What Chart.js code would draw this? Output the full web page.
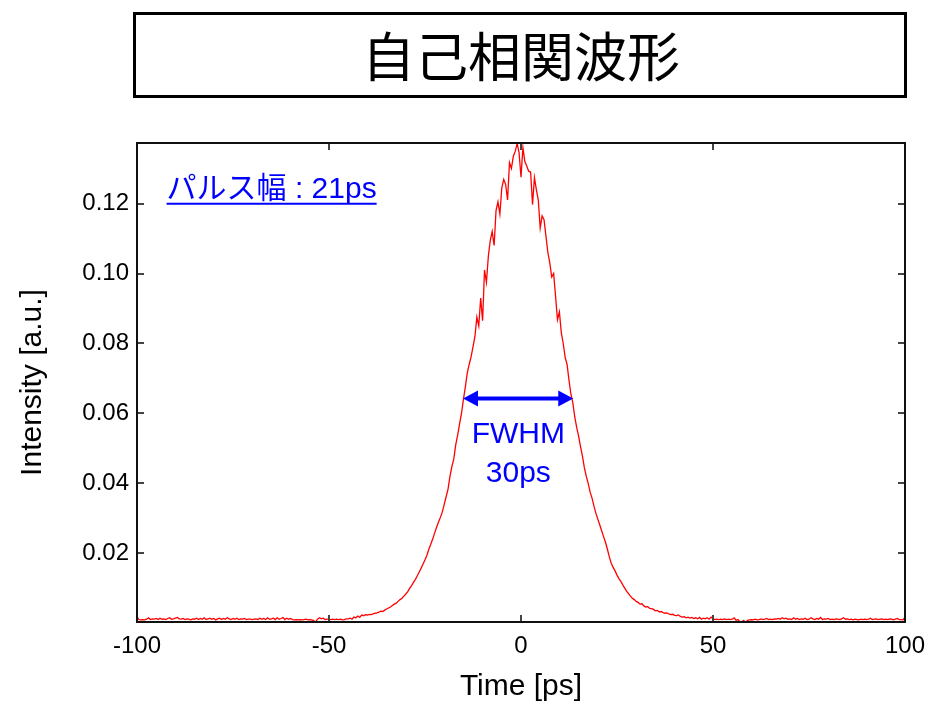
<!DOCTYPE html>
<html><head><meta charset="utf-8">
<script src="https://cdn.jsdelivr.net/npm/chart.js@4.4.0/dist/chart.umd.min.js"></script>
<style>html,body{margin:0;padding:0;background:#fff;}#wrap{width:943px;height:705px;}</style>
</head><body><div id="wrap"><canvas id="c" width="943" height="705"></canvas></div>
<script>
// ---- data ----
const timeStart = -100;   // ps, first sample
const timeStep = 0.5;     // ps, sampling interval
const intensity = [
0.0019,0.0011,0.0010,0.0011,0.0010,0.0012,0.0016,0.0011,0.0013,0.0012,
0.0014,0.0011,0.0015,0.0012,0.0013,0.0011,0.0014,0.0016,0.0012,0.0013,
0.0015,0.0017,0.0013,0.0012,0.0014,0.0011,0.0013,0.0012,0.0010,0.0013,
0.0012,0.0015,0.0011,0.0014,0.0012,0.0016,0.0011,0.0013,0.0015,0.0012,
0.0014,0.0010,0.0013,0.0015,0.0011,0.0014,0.0012,0.0016,0.0013,0.0011,
0.0014,0.0012,0.0015,0.0011,0.0013,0.0012,0.0014,0.0011,0.0012,0.0012,
0.0011,0.0012,0.0013,0.0011,0.0015,0.0012,0.0014,0.0011,0.0016,0.0012,
0.0013,0.0015,0.0011,0.0016,0.0012,0.0014,0.0017,0.0011,0.0015,0.0012,
0.0014,0.0011,0.0010,0.0011,0.0010,0.0011,0.0010,0.0011,0.0012,0.0010,
0.0011,0.0010,0.0008,0.0004,0.0012,0.0016,0.0013,0.0015,0.0011,0.0012,
0.0012,0.0011,0.0012,0.0011,0.0012,0.0011,0.0012,0.0010,0.0011,0.0013,
0.0013,0.0015,0.0012,0.0018,0.0016,0.0021,0.0017,0.0024,0.0022,0.0025,
0.0024,0.0026,0.0025,0.0027,0.0029,0.0030,0.0032,0.0035,0.0034,0.0038,
0.0041,0.0044,0.0047,0.0051,0.0055,0.0058,0.0063,0.0068,0.0072,0.0078,
0.0084,0.0091,0.0100,0.0108,0.0117,0.0126,0.0136,0.0147,0.0158,0.0170,
0.0182,0.0195,0.0212,0.0226,0.0241,0.0258,0.0274,0.0289,0.0303,0.0318,
0.0340,0.0362,0.0384,0.0420,0.0448,0.0470,0.0510,0.0538,0.0570,0.0600,
0.0640,0.0675,0.0715,0.0740,0.0762,0.0790,0.0820,0.0875,0.0850,0.0930,
0.0865,0.1010,0.0975,0.1050,0.1095,0.1120,0.1080,0.1180,0.1205,0.1170,
0.1245,0.1269,0.1255,0.1210,0.1317,0.1300,0.1335,0.1349,0.1372,0.1345,
0.1275,0.1360,0.1320,0.1307,0.1292,0.1290,0.1197,0.1274,0.1240,0.1210,
0.1130,0.1165,0.1154,0.1106,0.1060,0.1030,0.0990,0.1000,0.0935,0.0868,
0.0890,0.0830,0.0800,0.0760,0.0740,0.0695,0.0655,0.0630,0.0590,0.0560,
0.0535,0.0505,0.0478,0.0445,0.0420,0.0400,0.0375,0.0358,0.0335,0.0315,
0.0298,0.0282,0.0265,0.0248,0.0232,0.0212,0.0190,0.0172,0.0160,0.0150,
0.0138,0.0128,0.0120,0.0110,0.0101,0.0092,0.0085,0.0078,0.0072,0.0068,
0.0063,0.0060,0.0055,0.0056,0.0050,0.0047,0.0048,0.0043,0.0042,0.0040,
0.0036,0.0037,0.0033,0.0034,0.0031,0.0029,0.0030,0.0027,0.0025,0.0026,
0.0023,0.0022,0.0024,0.0020,0.0018,0.0019,0.0016,0.0018,0.0015,0.0017,
0.0014,0.0016,0.0013,0.0017,0.0012,0.0015,0.0013,0.0016,0.0012,0.0018,
0.0014,0.0011,0.0012,0.0011,0.0012,0.0011,0.0013,0.0011,0.0012,0.0011,
0.0012,0.0016,0.0009,0.0011,0.0004,0.0005,0.0008,0.0003,0.0009,0.0010,
0.0011,0.0010,0.0012,0.0010,0.0011,0.0013,0.0011,0.0012,0.0014,0.0011,
0.0012,0.0011,0.0013,0.0012,0.0014,0.0012,0.0016,0.0013,0.0015,0.0012,
0.0013,0.0011,0.0016,0.0012,0.0014,0.0011,0.0013,0.0012,0.0015,0.0011,
0.0012,0.0016,0.0013,0.0011,0.0014,0.0012,0.0017,0.0011,0.0013,0.0012,
0.0014,0.0011,0.0012,0.0011,0.0013,0.0012,0.0011,0.0013,0.0016,0.0012,
0.0013,0.0011,0.0012,0.0010,0.0012,0.0011,0.0010,0.0012,0.0011,0.0012,
0.0011,0.0012,0.0015,0.0011,0.0012,0.0013,0.0011,0.0012,0.0013,0.0011,
0.0012,0.0011,0.0013,0.0012,0.0010,0.0012,0.0014,0.0011,0.0011,0.0010,0.0018
];
const xTickValues = [-100, -50, 0, 50, 100];
const yTickValues = [0.02, 0.04, 0.06, 0.08, 0.10, 0.12];
const xRange = [-100, 100];
const yRange = [0.0004, 0.1373];
const fwhmLeft = -15.1, fwhmRight = 13.6, fwhmLevel = 0.0643;
const fwhmText = ['FWHM', '30ps'];
const fwhmTextPos = [[-0.7, 0.0515], [-0.7, 0.0404]];
const pulseText = 'パルス幅 : 21ps';
const pulseTextPos = [-92.3, 0.1215];
const titleText = '自己相関波形';
const xTitle = 'Time [ps]';
const yTitle = 'Intensity [a.u.]';

const points = intensity.map((v, i) => ({x: timeStart + i * timeStep, y: v}));
const LATIN = '"Liberation Sans", Arial, sans-serif';
const JP = '"Liberation Sans", "Noto Sans CJK JP", sans-serif';

const decor = {
  id: 'decor',
  beforeDraw(chart) {
    const ctx = chart.ctx;
    ctx.save();
    ctx.fillStyle = '#fff';
    ctx.fillRect(0, 0, chart.width, chart.height);
    // title box + title
    ctx.strokeStyle = '#000';
    ctx.lineWidth = 3;
    ctx.strokeRect(134.5, 13.5, 771, 83);
    ctx.fillStyle = '#000';
    ctx.font = '400 53px "Noto Sans CJK JP", sans-serif';
    ctx.textAlign = 'center';
    ctx.textBaseline = 'middle';
    ctx.fillText(titleText, 521, 57);
    ctx.restore();
  },
  afterDatasetsDraw(chart) {
    const ctx = chart.ctx;
    const a = chart.chartArea;
    const xs = chart.scales.x, ys = chart.scales.y;
    ctx.save();
    // inner ticks
    ctx.strokeStyle = '#444';
    ctx.lineWidth = 2;
    const tl = 7;
    xTickValues.forEach(v => {
      const px = Math.round(xs.getPixelForValue(v));
      if (px <= a.left + 1 || px >= a.right - 1) return;
      ctx.beginPath();
      ctx.moveTo(px, a.bottom); ctx.lineTo(px, a.bottom - tl);
      ctx.moveTo(px, a.top); ctx.lineTo(px, a.top + tl);
      ctx.stroke();
    });
    yTickValues.forEach(v => {
      const py = Math.round(ys.getPixelForValue(v));
      ctx.beginPath();
      ctx.moveTo(a.left, py); ctx.lineTo(a.left + tl, py);
      ctx.moveTo(a.right, py); ctx.lineTo(a.right - tl, py);
      ctx.stroke();
    });
    // frame
    ctx.strokeStyle = '#111';
    ctx.lineWidth = 2;
    ctx.strokeRect(a.left, a.top, a.right - a.left, a.bottom - a.top);

    // FWHM arrow
    const x1 = xs.getPixelForValue(fwhmLeft), x2 = xs.getPixelForValue(fwhmRight);
    const yA = ys.getPixelForValue(fwhmLevel);
    const hl = 15, hw = 8;
    ctx.strokeStyle = '#0000ff';
    ctx.fillStyle = '#0000ff';
    ctx.lineWidth = 4;
    ctx.beginPath();
    ctx.moveTo(x1 + hl - 2, yA); ctx.lineTo(x2 - hl + 2, yA);
    ctx.stroke();
    ctx.beginPath();
    ctx.moveTo(x1, yA); ctx.lineTo(x1 + hl, yA - hw); ctx.lineTo(x1 + hl, yA + hw); ctx.closePath();
    ctx.fill();
    ctx.beginPath();
    ctx.moveTo(x2, yA); ctx.lineTo(x2 - hl, yA - hw); ctx.lineTo(x2 - hl, yA + hw); ctx.closePath();
    ctx.fill();

    // FWHM texts
    ctx.font = '30px ' + LATIN;
    ctx.textAlign = 'center';
    ctx.textBaseline = 'alphabetic';
    fwhmText.forEach((t, i) => {
      ctx.fillText(t, xs.getPixelForValue(fwhmTextPos[i][0]), ys.getPixelForValue(fwhmTextPos[i][1]));
    });

    // pulse width annotation (underlined)
    ctx.font = '30px ' + JP;
    ctx.textAlign = 'left';
    const px0 = xs.getPixelForValue(pulseTextPos[0]);
    const py0 = ys.getPixelForValue(pulseTextPos[1]);
    ctx.fillText(pulseText, px0, py0);
    const w = ctx.measureText(pulseText).width;
    ctx.lineWidth = 2;
    ctx.beginPath();
    ctx.moveTo(px0, py0 + 5.5); ctx.lineTo(px0 + w, py0 + 5.5);
    ctx.stroke();
    ctx.restore();
  }
};

new Chart(document.getElementById('c'), {
  type: 'line',
  data: {
    datasets: [{
      data: points,
      borderColor: '#ff0000',
      borderWidth: 1.3,
      pointRadius: 0,
      tension: 0,
      fill: false
    }]
  },
  options: {
    responsive: false,
    animation: false,
    devicePixelRatio: 1,
    layout: {padding: {left: 0, right: 38, top: 143, bottom: 0}},
    plugins: {
      legend: {display: false},
      tooltip: {enabled: false},
      title: {display: false}
    },
    scales: {
      x: {
        type: 'linear',
        min: xRange[0], max: xRange[1],
        afterBuildTicks: s => { s.ticks = xTickValues.map(v => ({value: v})); },
        afterFit: s => { s.height = 83; },
        grid: {display: false, drawTicks: false},
        border: {display: false},
        ticks: {color: '#000', font: {family: LATIN, size: 24}, padding: 10, maxRotation: 0, callback: v => String(v)},
        title: {display: true, text: xTitle, color: '#000', font: {family: LATIN, size: 30}, padding: {top: 0, bottom: 0}}
      },
      y: {
        type: 'linear',
        min: yRange[0], max: yRange[1],
        afterBuildTicks: s => { s.ticks = yTickValues.map(v => ({value: v})); },
        afterFit: s => { s.width = 137; },
        grid: {display: false, drawTicks: false},
        border: {display: false},
        ticks: {color: '#000', font: {family: LATIN, size: 24}, padding: 8, callback: v => Number(v).toFixed(2)},
        title: {display: true, text: yTitle, color: '#000', font: {family: LATIN, size: 30}, padding: {top: 15, bottom: 0}}
      }
    }
  },
  plugins: [decor]
});
</script>
</body></html>
